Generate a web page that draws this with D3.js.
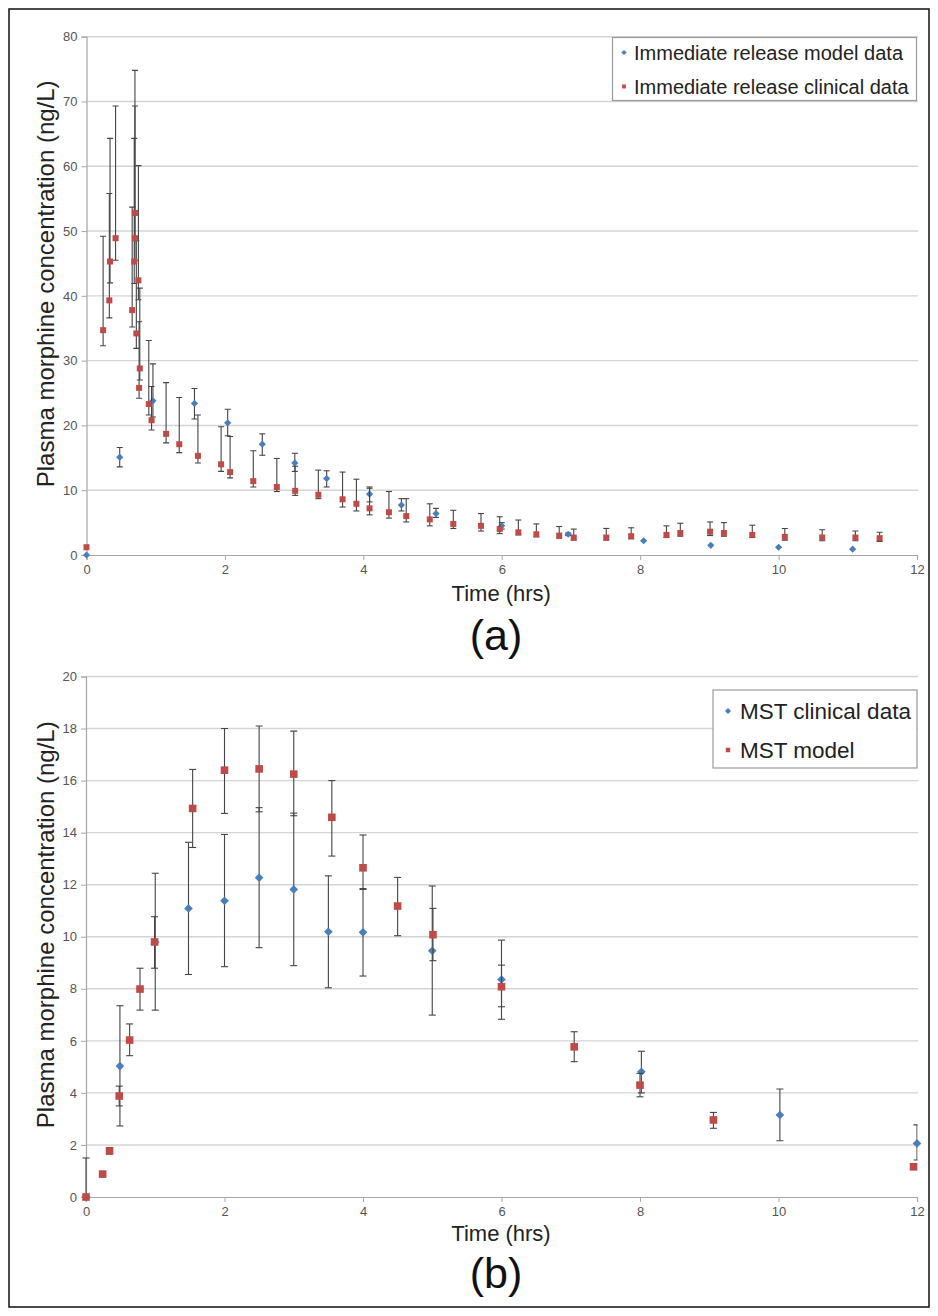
<!DOCTYPE html>
<html>
<head>
<meta charset="utf-8">
<script src="https://cdn.jsdelivr.net/npm/d3@7"></script>
<style>
  html, body { margin: 0; padding: 0; background: #fff; }
  svg { display: block; font-family: "Liberation Sans", Arial, sans-serif; }
</style>
</head>
<body>
<svg id="chart" width="938" height="1316"></svg>
<script>
// ---------------- DATA ----------------
// rows are [time (hrs), mean, lower error, upper error]
const xTickValues = [0, 2, 4, 6, 8, 10, 12];
const yTicksA = [0, 10, 20, 30, 40, 50, 60, 70, 80];
const yTicksB = [0, 2, 4, 6, 8, 10, 12, 14, 16, 18, 20];

const irModel = [
  [0, 0, null, null],
  [0.48, 15.1, 13.6, 16.6],
  [0.96, 23.8, 21.3, 29.5],
  [1.56, 23.4, 21.0, 25.7],
  [2.04, 20.4, 18.4, 22.5],
  [2.54, 17.1, 15.4, 18.7],
  [3.01, 14.2, 12.9, 15.7],
  [3.47, 11.8, 10.5, 13.0],
  [4.09, 9.4, 8.2, 10.5],
  [4.55, 7.7, 6.8, 8.7],
  [5.05, 6.4, 5.8, 7.2],
  [6.00, 4.5, 4.0, 5.0],
  [6.96, 3.2, 3.0, 3.4],
  [8.05, 2.2, null, null],
  [9.02, 1.5, null, null],
  [10.00, 1.2, null, null],
  [11.07, 0.9, null, null]
];

const irClinical = [
  [0, 1.2, null, null],
  [0.24, 34.7, 32.3, 49.2],
  [0.33, 39.3, 36.6, 55.8],
  [0.34, 45.3, 42.0, 64.3],
  [0.42, 48.9, 45.5, 69.3],
  [0.66, 37.8, 35.2, 53.7],
  [0.70, 52.8, 49.0, 74.8],
  [0.70, 48.9, 45.5, 69.3],
  [0.69, 45.3, 41.9, 64.3],
  [0.75, 42.4, 39.4, 60.1],
  [0.72, 34.2, 31.9, 48.5],
  [0.77, 28.8, 27.0, 41.2],
  [0.76, 25.8, 24.2, 36.0],
  [0.90, 23.3, 21.6, 33.1],
  [0.94, 20.8, 19.3, 26.0],
  [1.15, 18.7, 17.3, 26.6],
  [1.34, 17.1, 15.8, 24.3],
  [1.61, 15.3, 14.2, 21.6],
  [1.945, 14.0, 12.9, 19.8],
  [2.075, 12.8, 11.9, 18.3],
  [2.41, 11.4, 10.5, 16.1],
  [2.75, 10.5, 9.8, 14.9],
  [3.015, 9.9, 9.2, 13.7],
  [3.35, 9.3, 8.7, 13.1],
  [3.70, 8.6, 7.4, 12.8],
  [3.90, 7.9, 6.8, 11.7],
  [4.09, 7.2, 6.2, 10.3],
  [4.37, 6.6, 5.7, 9.8],
  [4.62, 6.0, 5.1, 8.7],
  [4.96, 5.5, 4.5, 7.9],
  [5.30, 4.8, 4.1, 6.9],
  [5.70, 4.5, 3.7, 6.4],
  [5.97, 4.0, 3.3, 5.9],
  [6.24, 3.5, 3.1, 5.4],
  [6.50, 3.2, 2.8, 4.8],
  [6.83, 3.0, 2.6, 4.4],
  [7.04, 2.7, 2.3, 4.0],
  [7.51, 2.7, 2.3, 4.1],
  [7.87, 2.9, 2.5, 4.2],
  [8.38, 3.1, 2.7, 4.5],
  [8.58, 3.4, 2.9, 4.9],
  [9.01, 3.6, 3.0, 5.1],
  [9.21, 3.4, 2.9, 5.0],
  [9.62, 3.1, 2.7, 4.6],
  [10.09, 2.8, 2.3, 4.1],
  [10.63, 2.7, 2.2, 3.9],
  [11.11, 2.7, 2.2, 3.7],
  [11.46, 2.6, 2.1, 3.5]
];

const mstClinical = [
  [0, 0, 0, 1.5],
  [0.49, 5.03, 2.73, 7.35],
  [1.00, 9.8, 7.18, 12.44],
  [1.48, 11.09, 8.55, 13.63],
  [2.00, 11.38, 8.85, 13.93],
  [2.50, 12.27, 9.58, 14.96],
  [3.00, 11.82, 8.89, 14.75],
  [3.50, 10.19, 8.04, 12.34],
  [4.00, 10.17, 8.49, 11.85],
  [5.00, 9.46, 6.99, 11.95],
  [6.00, 8.36, 6.83, 9.87],
  [8.02, 4.81, 4.0, 5.6],
  [10.02, 3.15, 2.16, 4.15],
  [12.00, 2.06, 1.42, 2.77]
];

const mstModel = [
  [0, 0, null, null],
  [0.24, 0.88, null, null],
  [0.34, 1.77, 1.65, 1.9],
  [0.48, 3.88, 3.5, 4.26],
  [0.63, 6.03, 5.43, 6.65],
  [0.78, 7.99, 7.18, 8.79],
  [0.99, 9.8, 8.79, 10.77],
  [1.54, 14.93, 13.43, 16.43],
  [2.00, 16.4, 14.74, 18.0],
  [2.50, 16.45, 14.8, 18.1],
  [3.00, 16.25, 14.65, 17.9],
  [3.55, 14.59, 13.1, 16.0],
  [4.00, 12.65, 11.82, 13.91],
  [4.50, 11.18, 10.04, 12.28],
  [5.01, 10.08, 9.08, 11.09],
  [6.00, 8.08, 7.31, 8.91],
  [7.05, 5.77, 5.2, 6.35],
  [8.00, 4.3, 3.85, 4.75],
  [9.06, 2.96, 2.64, 3.25],
  [11.95, 1.16, null, null]
];

const legendA = ["Immediate release model data", "Immediate release clinical data"];
const legendB = ["MST clinical data", "MST model"];

// ---------------- DRAWING ----------------
const BLUE = "#4a7ebb";
const RED = "#be4b48";
const svg = d3.select("#chart");

svg.append("rect")
  .attr("x", 9).attr("y", 9).attr("width", 920).attr("height", 1298)
  .attr("fill", "#fff").attr("stroke", "#111").attr("stroke-width", 1.5);

function panel(opt) {
  const x = d3.scaleLinear().domain([0, 12]).range([opt.left, opt.right]);
  const y = d3.scaleLinear().domain([0, opt.ymax]).range([opt.bottom, opt.top]);
  const g = svg.append("g");
  const clipId = "clip" + opt.id;
  svg.append("clipPath").attr("id", clipId).append("rect")
    .attr("x", opt.left - 10).attr("y", opt.top - 20)
    .attr("width", opt.right - opt.left + 10.5).attr("height", opt.bottom - opt.top + 30);

  g.append("g").selectAll("line").data(opt.yTicks.filter(d => d > 0)).join("line")
    .attr("x1", opt.left).attr("x2", opt.right + 1)
    .attr("y1", d => y(d)).attr("y2", d => y(d))
    .attr("stroke", "#d4d4d4").attr("stroke-width", 1.4);

  const yAxis = d3.axisLeft(y).tickValues(opt.yTicks).tickSize(5).tickPadding(4);
  const ya = g.append("g").attr("transform", `translate(${opt.left},0)`).call(yAxis);
  ya.select(".domain").attr("stroke", "#a6a6a6").attr("stroke-width", 1.2);
  ya.selectAll(".tick line").attr("stroke", "#a6a6a6");
  ya.selectAll(".tick text").attr("fill", "#555").attr("font-size", 13)
    .attr("font-family", "Liberation Sans, Arial, sans-serif");

  const xAxis = d3.axisBottom(x).tickValues(xTickValues).tickSize(5).tickPadding(5);
  const xa = g.append("g").attr("transform", `translate(0,${opt.bottom})`).call(xAxis);
  xa.select(".domain").attr("stroke", "#a6a6a6").attr("stroke-width", 1.2);
  xa.selectAll(".tick line").attr("stroke", "#a6a6a6");
  xa.selectAll(".tick text").attr("fill", "#555").attr("font-size", 13)
    .attr("font-family", "Liberation Sans, Arial, sans-serif");

  opt.series.forEach(s => {
    const withErr = s.data.filter(d => d[2] !== null);
    const eb = g.append("g").attr("clip-path", `url(#${clipId})`);
    eb.selectAll("line.v").data(withErr).join("line").attr("class", "v")
      .attr("x1", d => x(d[0])).attr("x2", d => x(d[0]))
      .attr("y1", d => y(d[2])).attr("y2", d => y(d[3]))
      .attr("stroke", "#444").attr("stroke-width", 1.1);
    ["2", "3"].forEach(k => {
      eb.selectAll("line.c" + k).data(withErr).join("line").attr("class", "c" + k)
        .attr("x1", d => x(d[0]) - opt.cap).attr("x2", d => x(d[0]) + opt.cap)
        .attr("y1", d => y(d[+k])).attr("y2", d => y(d[+k]))
        .attr("stroke", "#444").attr("stroke-width", 1.1);
    });
    const m = g.append("g");
    if (s.shape === "diamond") {
      const r = opt.diam;
      m.selectAll("path").data(s.data).join("path")
        .attr("d", d => {
          const cx = x(d[0]), cy = y(d[1]);
          return `M${cx},${cy - r}L${cx + r},${cy}L${cx},${cy + r}L${cx - r},${cy}Z`;
        })
        .attr("fill", s.color);
    } else {
      const h = opt.sq;
      m.selectAll("rect").data(s.data).join("rect")
        .attr("x", d => x(d[0]) - h).attr("y", d => y(d[1]) - h)
        .attr("width", 2 * h).attr("height", 2 * h)
        .attr("fill", s.color);
    }
  });

  svg.append("text")
    .attr("transform", `translate(${opt.yTitleX},${(opt.top + opt.bottom) / 2 - 12}) rotate(-90)`)
    .attr("text-anchor", "middle").attr("font-size", 24).attr("fill", "#222")
    .text("Plasma morphine concentration (ng/L)");
  svg.append("text")
    .attr("x", (opt.left + opt.right) / 2 - 0.5).attr("y", opt.xTitleY)
    .attr("text-anchor", "middle").attr("font-size", 22).attr("fill", "#222")
    .text("Time (hrs)");
  svg.append("text")
    .attr("x", 496).attr("y", opt.labelY)
    .attr("text-anchor", "middle").attr("font-size", 43).attr("fill", "#111")
    .text(opt.label);

  const L = opt.legend;
  const lg = svg.append("g");
  lg.append("rect").attr("x", L.x).attr("y", L.y).attr("width", L.w).attr("height", L.h)
    .attr("fill", "#fff").attr("stroke", "#9a9a9a").attr("stroke-width", 1.2);
  opt.series.forEach((s, i) => {
    const cy = L.y + L.first + i * L.step;
    if (s.shape === "diamond") {
      const r = L.mk;
      lg.append("path")
        .attr("d", `M${L.mx},${cy - r}L${L.mx + r},${cy}L${L.mx},${cy + r}L${L.mx - r},${cy}Z`)
        .attr("fill", s.color);
    } else {
      const h = L.mk * 0.75;
      lg.append("rect").attr("x", L.mx - h).attr("y", cy - h).attr("width", 2 * h).attr("height", 2 * h)
        .attr("fill", s.color);
    }
    lg.append("text").attr("x", L.tx).attr("y", cy + L.fs * 0.36)
      .attr("font-size", L.fs).attr("fill", "#222").text(opt.legendText[i]);
  });
}

panel({
  id: "a", left: 86.5, right: 917, top: 36.7, bottom: 555, ymax: 80, yTicks: yTicksA,
  cap: 3, diam: 3.6, sq: 3,
  series: [
    { data: irModel, color: BLUE, shape: "diamond" },
    { data: irClinical, color: RED, shape: "square" }
  ],
  yTitleX: 54, xTitleY: 601, labelY: 650, label: "(a)",
  legend: { x: 612.5, y: 37.5, w: 304, h: 63, first: 15, step: 34, mx: 624, tx: 634, fs: 20, mk: 2.6 },
  legendText: legendA
});

panel({
  id: "b", left: 86, right: 917, top: 676.5, bottom: 1197, ymax: 20, yTicks: yTicksB,
  cap: 3.5, diam: 4.3, sq: 3.8,
  series: [
    { data: mstClinical, color: BLUE, shape: "diamond" },
    { data: mstModel, color: RED, shape: "square" }
  ],
  yTitleX: 54, xTitleY: 1241, labelY: 1288, label: "(b)",
  legend: { x: 713, y: 690, w: 204, h: 78, first: 21, step: 39, mx: 728, tx: 740, fs: 22.5, mk: 3 },
  legendText: legendB
});
</script>
</body>
</html>
